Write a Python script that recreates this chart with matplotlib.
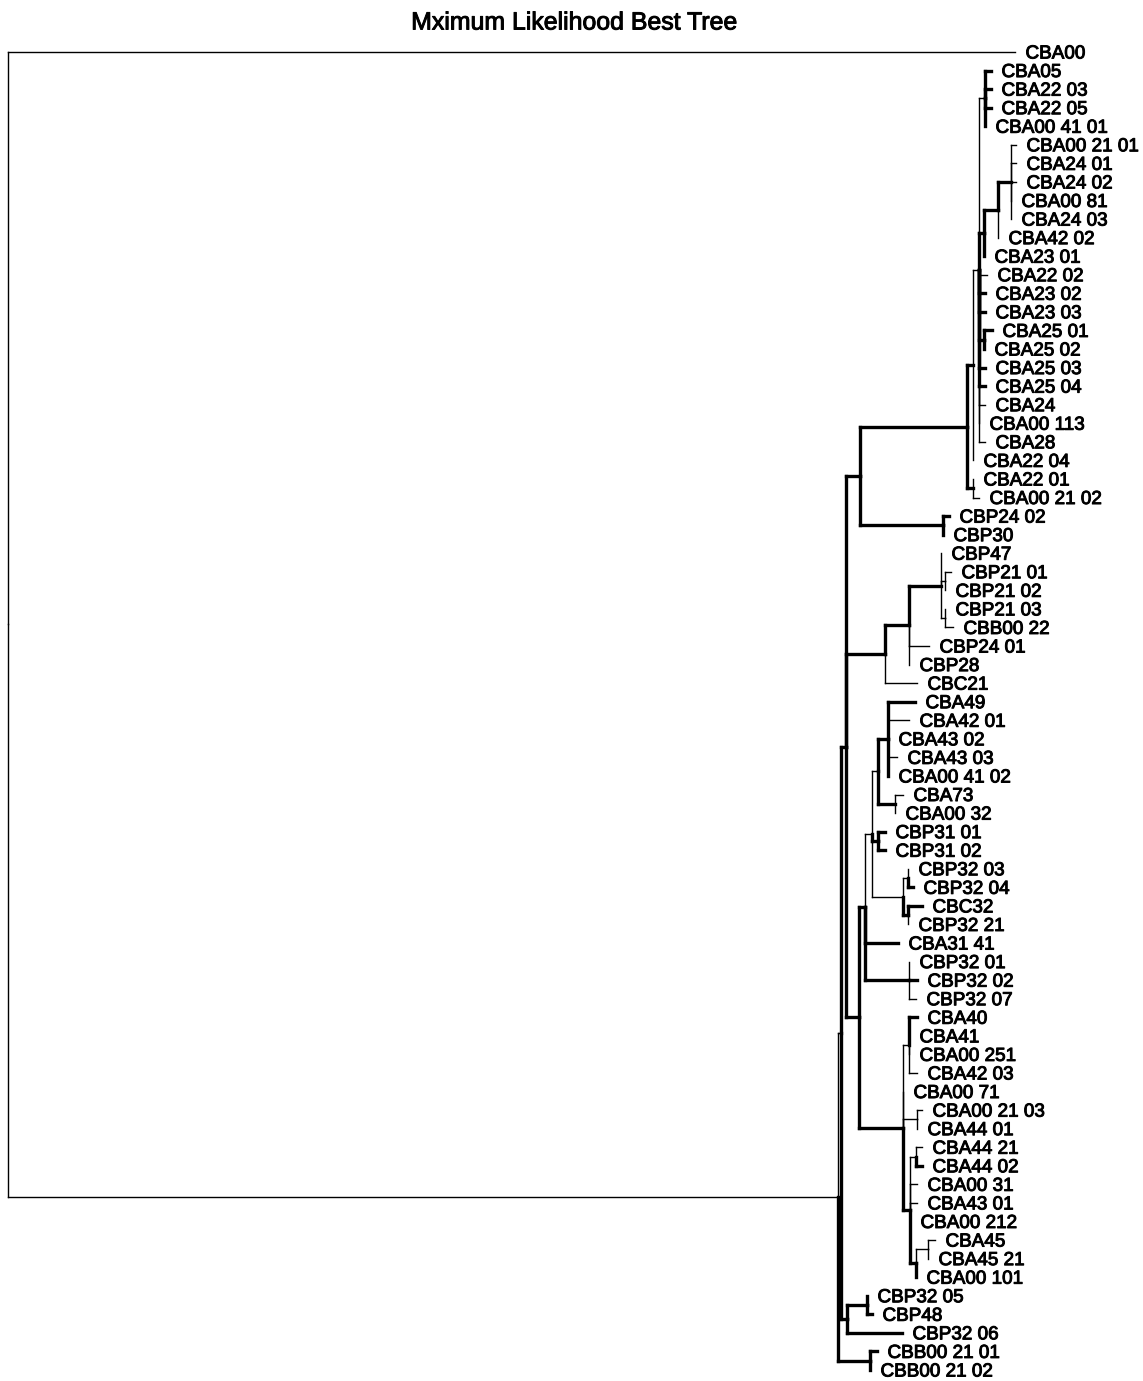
import matplotlib
matplotlib.use("Agg")
import matplotlib.pyplot as plt
import matplotlib.patheffects as pe

# ML tree in Newick form; "*" after a branch length marks a well supported (bold) branch,
# underscores in tip names are shown as spaces
tree_newick = """
(CBA00:1.007,
 ((((((((CBA05:0.006*,CBA22_03:0.006*,CBA22_05:0.006*,CBA00_41_01:0*):0.006,
         (((CBA00_21_01:0.005,CBA24_01:0.005,CBA24_02:0.005,CBA00_81:0,CBA24_03:0):0.013*,
           CBA42_02:0):0.014*,CBA23_01:0*):0.005*,
         CBA22_02:0.008,CBA23_02:0.006*,CBA23_03:0.006*,
         (CBA25_01:0.008*,CBA25_02:0*):0.005*,
         CBA25_03:0.006*,CBA25_04:0.006*,CBA24:0.006,CBA00_113:0,CBA28:0.006):0.006,
        CBA22_04:0):0.006*,
       (CBA22_01:0,CBA00_21_02:0.006):0.006*):0.107*,
      (CBP24_02:0.006*,CBP30:0*):0.083*):0.014*,
     (((CBP47:0,(CBP21_01:0.006,CBP21_02:0):0.004,(CBP21_03:0,CBB00_22:0.008):0.004):0.032*,
       CBP24_01:0.020,CBP28:0):0.024*,
      CBC21:0.032):0.039*,
     (((((CBA49:0.027*,CBA42_01:0.021,CBA43_02:0,CBA43_03:0.009,CBA00_41_02:0*):0.010*,
         (CBA73:0.008,CBA00_32:0):0.017*):0.006,
        (CBP31_01:0.007*,CBP31_02:0.007*):0.006*,
        ((CBP32_03:0,CBP32_04:0.005*):0.005,(CBC32:0.014*,CBP32_21:0):0.005*):0.031):0.007,
       CBA31_41:0.033*,
       (CBP32_01:0,CBP32_02:0.008*,CBP32_07:0.007):0.044*):0.006*,
      ((CBA40:0.008*,CBA41:0,CBA00_251:0,CBA42_03:0.008):0.006,
       CBA00_71:0,
       (CBA00_21_03:0.005,CBA44_01:0):0.014,
       ((CBA44_21:0.006,CBA44_02:0.006*):0.006,
        CBA00_31:0.007,CBA43_01:0.007,CBA00_212:0,
        ((CBA45:0.007,CBA45_21:0):0.012,CBA00_101:0*):0.006*):0.007*):0.044*):0.013*):0.005*,
    ((CBP32_05:0*,CBP48:0.005*):0.020*,CBP32_06:0.055*):0.006*):0.003,
   (CBB00_21_01:0.007*,CBB00_21_02:0*):0.032*):0.830);
"""

title = "Mximum Likelihood Best Tree"

thin_lw = 1.0
bold_lw = 2.4
label_offset = 0.0105
heavy_text = [pe.withStroke(linewidth=0.7, foreground="black")]


def parse_newick(text):
    s = "".join(text.split())
    pos = 0

    def read_node():
        nonlocal pos
        node = {"name": "", "children": [], "length": 0.0, "bold": False}
        if s[pos] == "(":
            pos += 1
            while True:
                node["children"].append(read_node())
                if s[pos] == ",":
                    pos += 1
                    continue
                pos += 1  # closing bracket
                break
        start = pos
        while s[pos] not in ":,();":
            pos += 1
        node["name"] = s[start:pos].replace("_", " ")
        if s[pos] == ":":
            pos += 1
            start = pos
            while s[pos] not in ",();*":
                pos += 1
            node["length"] = float(s[start:pos])
            if s[pos] == "*":
                node["bold"] = True
                pos += 1
        return node

    return read_node()


def layout(node, x0, tips):
    # tips get consecutive rows, inner nodes sit halfway between their outer children
    node["x"] = x0 + node["length"]
    if not node["children"]:
        node["y"] = len(tips)
        tips.append(node)
    else:
        for ch in node["children"]:
            layout(ch, node["x"], tips)
        node["y"] = (node["children"][0]["y"] + node["children"][-1]["y"]) / 2.0


def draw(ax, node):
    for ch in node["children"]:
        lw = bold_lw if ch["bold"] else thin_lw
        ax.plot([node["x"], node["x"]], [node["y"], ch["y"]], color="black",
                lw=lw, solid_capstyle="projecting")
        ax.plot([node["x"], ch["x"]], [ch["y"], ch["y"]], color="black",
                lw=lw, solid_capstyle="projecting")
        draw(ax, ch)


root = parse_newick(tree_newick)
root["length"] = 0.0
tips = []
layout(root, 0.0, tips)

fig = plt.figure(figsize=(11.43, 13.81), dpi=100)
ax = fig.add_axes([0, 0, 1, 1])
ax.axis("off")

draw(ax, root)

for tip in tips:
    ax.text(tip["x"] + label_offset, tip["y"], tip["name"], ha="left",
            va="center_baseline", fontsize=13.6, family="Liberation Sans",
            color="black", path_effects=heavy_text)

# page geometry: root at 8 px, first tip at 52 px, last tip at 1370 px
row_px = (1370 - 52) / (len(tips) - 1)
ax.set_xlim(-0.008, 1.135)
ax.set_ylim(len(tips) - 1 + 11 / row_px, -52 / row_px)

fig.text(0.502, 1 - 20 / 1381, title, ha="center", va="center_baseline",
         fontsize=17.9, family="Liberation Sans", path_effects=heavy_text)

fig.savefig("out.png", dpi=100)
